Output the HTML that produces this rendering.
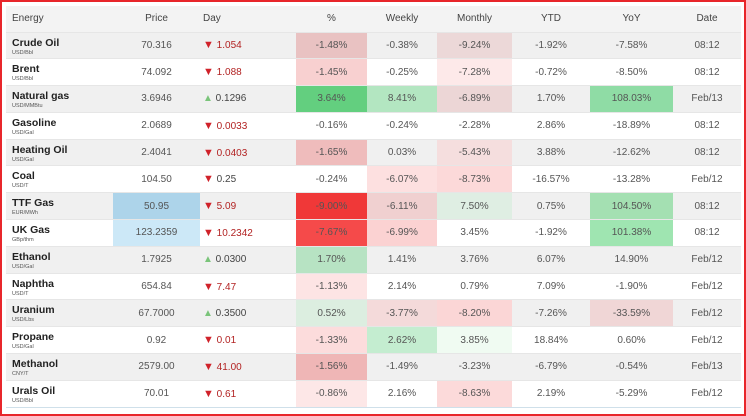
<!DOCTYPE html>
<html><head><meta charset="utf-8"><style>
*{margin:0;padding:0;box-sizing:border-box}
body{width:746px;height:416px;background:#fff;position:relative;overflow:hidden;font-family:"Liberation Sans",Arial,sans-serif}
#frame{position:absolute;left:0;top:0;width:746px;height:416px;border:2px solid #e8262b}
#t{position:absolute;left:6px;top:6px;width:735px;border-collapse:collapse;table-layout:fixed}
#t td,#t th{height:26.8px;font-size:10px;color:#555;text-align:center;font-weight:normal;padding:0;vertical-align:middle}
#t th{height:26px;color:#444;font-size:10px}
#t tr{background:#fff}
#t tr.g{background:#f0f0f0}
#t tr.h{background:#f3f3f3}
#t td.n{text-align:left;padding-left:6px;vertical-align:top;padding-top:4px;color:#222;font-weight:bold;font-size:10.5px;line-height:12px}
#t td.n span{display:block;font-weight:normal;font-size:5.5px;color:#555;line-height:9px}
#t th.n{text-align:left;padding-left:6px}
td.d{text-align:left!important;color:#b22222!important;padding-left:3px!important}
td.d b{font-weight:normal;color:#d0222a;font-size:11px}
td.u{text-align:left!important;color:#444!important;padding-left:3px!important}
td.u b{font-weight:normal;color:#7ac47a;font-size:10px}
tr{border-bottom:1px solid #e6e6e6}
tr:last-child{border-bottom:1px solid #cfe0ea}
</style></head><body>
<table id="t">
<colgroup><col style="width:107px"><col style="width:87px"><col style="width:96px"><col style="width:71px"><col style="width:70px"><col style="width:75px"><col style="width:78px"><col style="width:83px"><col style="width:68px"></colgroup>
<tr class="h"><th class="n">Energy</th><th>Price</th><th style="text-align:left;padding-left:3px">Day</th><th>%</th><th>Weekly</th><th>Monthly</th><th>YTD</th><th>YoY</th><th>Date</th></tr>
<tr class="g"><td class="n">Crude Oil<span>USD/Bbl</span></td><td>70.316</td><td class="d"><b>▼</b> 1.054</td><td style="background:#e9c2c2">-1.48%</td><td>-0.38%</td><td style="background:#ecd8d8">-9.24%</td><td>-1.92%</td><td>-7.58%</td><td>08:12</td></tr>
<tr><td class="n">Brent<span>USD/Bbl</span></td><td>74.092</td><td class="d"><b>▼</b> 1.088</td><td style="background:#f8d0d0">-1.45%</td><td>-0.25%</td><td style="background:#fde9e9">-7.28%</td><td>-0.72%</td><td>-8.50%</td><td>08:12</td></tr>
<tr class="g"><td class="n">Natural gas<span>USD/MMBtu</span></td><td>3.6946</td><td class="u"><b>▲</b> 0.1296</td><td style="background:#63cf7f">3.64%</td><td style="background:#b3e6c1">8.41%</td><td style="background:#ecd6d6">-6.89%</td><td>1.70%</td><td style="background:#8fdca5">108.03%</td><td>Feb/13</td></tr>
<tr><td class="n">Gasoline<span>USD/Gal</span></td><td>2.0689</td><td class="d"><b>▼</b> 0.0033</td><td>-0.16%</td><td>-0.24%</td><td>-2.28%</td><td>2.86%</td><td>-18.89%</td><td>08:12</td></tr>
<tr class="g"><td class="n">Heating Oil<span>USD/Gal</span></td><td>2.4041</td><td class="d"><b>▼</b> 0.0403</td><td style="background:#efbcbc">-1.65%</td><td>0.03%</td><td style="background:#f5dede">-5.43%</td><td>3.88%</td><td>-12.62%</td><td>08:12</td></tr>
<tr><td class="n">Coal<span>USD/T</span></td><td>104.50</td><td class="u"><b style="color:#d0222a;font-size:11px">▼</b> 0.25</td><td>-0.24%</td><td style="background:#fde0e0">-6.07%</td><td style="background:#fcd9d9">-8.73%</td><td>-16.57%</td><td>-13.28%</td><td>Feb/12</td></tr>
<tr class="g"><td class="n">TTF Gas<span>EUR/MWh</span></td><td style="background:#add4ea">50.95</td><td class="d"><b>▼</b> 5.09</td><td style="background:#f03838">-9.00%</td><td style="background:#f0d0d0">-6.11%</td><td style="background:#dfeee3">7.50%</td><td>0.75%</td><td style="background:#a4e0b2">104.50%</td><td>08:12</td></tr>
<tr><td class="n">UK Gas<span>GBp/thm</span></td><td style="background:#cce8f7">123.2359</td><td class="d"><b>▼</b> 10.2342</td><td style="background:#f54a4a">-7.67%</td><td style="background:#fbd2d2">-6.99%</td><td>3.45%</td><td>-1.92%</td><td style="background:#9fe5b1">101.38%</td><td>08:12</td></tr>
<tr class="g"><td class="n">Ethanol<span>USD/Gal</span></td><td>1.7925</td><td class="u"><b>▲</b> 0.0300</td><td style="background:#b7e3c3">1.70%</td><td>1.41%</td><td>3.76%</td><td>6.07%</td><td>14.90%</td><td>Feb/12</td></tr>
<tr><td class="n">Naphtha<span>USD/T</span></td><td>654.84</td><td class="d"><b>▼</b> 7.47</td><td style="background:#fde4e4">-1.13%</td><td>2.14%</td><td>0.79%</td><td>7.09%</td><td>-1.90%</td><td>Feb/12</td></tr>
<tr class="g"><td class="n">Uranium<span>USD/Lbs</span></td><td>67.7000</td><td class="u"><b>▲</b> 0.3500</td><td style="background:#dceee0">0.52%</td><td style="background:#f4dada">-3.77%</td><td style="background:#fbd6d6">-8.20%</td><td>-7.26%</td><td style="background:#f0d6d6">-33.59%</td><td>Feb/12</td></tr>
<tr><td class="n">Propane<span>USD/Gal</span></td><td>0.92</td><td class="d"><b>▼</b> 0.01</td><td style="background:#fcdcdc">-1.33%</td><td style="background:#c4edd0">2.62%</td><td style="background:#f0fbf2">3.85%</td><td>18.84%</td><td>0.60%</td><td>Feb/12</td></tr>
<tr class="g"><td class="n">Methanol<span>CNY/T</span></td><td>2579.00</td><td class="d"><b>▼</b> 41.00</td><td style="background:#efb6b6">-1.56%</td><td>-1.49%</td><td>-3.23%</td><td>-6.79%</td><td>-0.54%</td><td>Feb/13</td></tr>
<tr><td class="n">Urals Oil<span>USD/Bbl</span></td><td>70.01</td><td class="d"><b>▼</b> 0.61</td><td style="background:#fde7e7">-0.86%</td><td>2.16%</td><td style="background:#fcdada">-8.63%</td><td>2.19%</td><td>-5.29%</td><td>Feb/12</td></tr>
</table>
<div id="frame"></div>
</body></html>
